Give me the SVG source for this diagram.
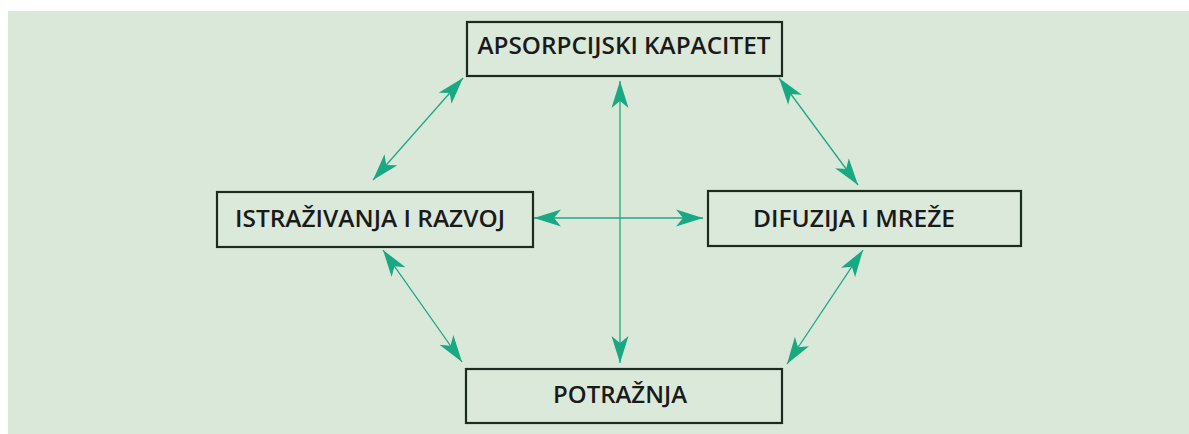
<svg xmlns="http://www.w3.org/2000/svg" width="1189" height="434" viewBox="0 0 1189 434">
<style>
.box{fill:#dbe9db;stroke:#1b2b1e;stroke-width:2.2}
.lbl{font-family:"Open Sans","Noto Sans",sans-serif;font-size:23.5px;font-weight:600;fill:#1a1a1a;text-anchor:middle}
.con{stroke:#1fa883;stroke-width:1.3;fill:none;marker-start:url(#ah);marker-end:url(#ah)}
</style>
<defs>
<marker id="ah" markerUnits="userSpaceOnUse" markerWidth="28" markerHeight="18" viewBox="0 0 28 18" refX="27" refY="9" orient="auto-start-reverse">
<path d="M27,9 L0,0.5 L7,9 L0,17.5 Z" fill="#18a982"/>
</marker>
</defs>
<rect x="0" y="0" width="1189" height="434" fill="#ffffff"/>
<rect x="8" y="11" width="1181" height="423" fill="#d9e8d9"/>
<g id="connectors">
<line class="con" x1="373" y1="180" x2="463" y2="78"/>
<line class="con" x1="620" y1="81" x2="620" y2="363"/>
<line class="con" x1="534" y1="218" x2="703" y2="218"/>
<line class="con" x1="779" y1="78" x2="858" y2="185"/>
<line class="con" x1="383" y1="250" x2="462" y2="362"/>
<line class="con" x1="863" y1="250" x2="787" y2="364"/>
</g>
<g id="n-apsorpcijski">
<rect class="box" x="467" y="22" width="315" height="54"/>
<text class="lbl" x="624" y="54" textLength="293" lengthAdjust="spacingAndGlyphs">APSORPCIJSKI KAPACITET</text>
</g>
<g id="n-istrazivanja">
<rect class="box" x="217" y="192" width="316" height="55"/>
<text class="lbl" x="370" y="227" textLength="270" lengthAdjust="spacingAndGlyphs">ISTRAŽIVANJA I RAZVOJ</text>
</g>
<g id="n-difuzija">
<rect class="box" x="708" y="191" width="313" height="55"/>
<text class="lbl" x="854" y="227" textLength="202" lengthAdjust="spacingAndGlyphs">DIFUZIJA I MREŽE</text>
</g>
<g id="n-potraznja">
<rect class="box" x="466" y="369" width="316" height="54"/>
<text class="lbl" x="620" y="403" textLength="134" lengthAdjust="spacingAndGlyphs">POTRAŽNJA</text>
</g>
</svg>
